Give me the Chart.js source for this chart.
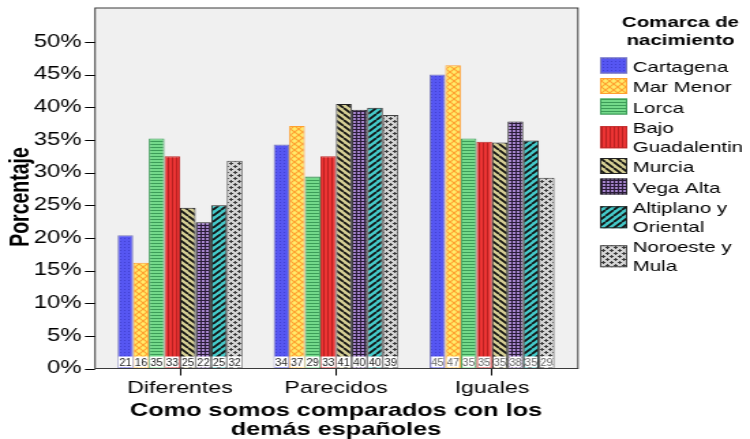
<!DOCTYPE html>
<html>
<head>
<meta charset="utf-8">
<script src="https://cdn.jsdelivr.net/npm/chart.js@4.4.1/dist/chart.umd.min.js"></script>
<style>
html, body { margin: 0; padding: 0; background: #fff; }
#c { display: block; }
</style>
</head>
<body>
<canvas id="c" width="550" height="439" style="width:750px;height:439px"></canvas>
<script>
// the original picture is stretched sideways, so the canvas is drawn narrow and widened by css
const categories = ['Diferentes', 'Parecidos', 'Iguales'];
const seriesNames = ['Cartagena', 'Mar Menor', 'Lorca', 'Bajo Guadalentin', 'Murcia', 'Vega Alta', 'Altiplano y Oriental', 'Noroeste y Mula'];
const legendLines = [['Cartagena'], ['Mar Menor'], ['Lorca'], ['Bajo', 'Guadalentin'], ['Murcia'], ['Vega Alta'], ['Altiplano y', 'Oriental'], ['Noroeste y', 'Mula']];

const cartagena  = [20.4, 34.3, 45.0];
const marMenor   = [16.2, 37.1, 46.4];
const lorca      = [35.2, 29.4, 35.2];
const bajoGuad   = [32.5, 32.5, 34.7];
const murcia     = [24.6, 40.5, 34.6];
const vegaAlta   = [22.4, 39.6, 37.8];
const altiplano  = [25.0, 39.9, 34.9];
const noroeste   = [31.8, 38.8, 29.2];
const seriesValues = [cartagena, marMenor, lorca, bajoGuad, murcia, vegaAlta, altiplano, noroeste];

// numbers printed at the foot of each bar, per category
const countLabels = [
    [21, 16, 35, 33, 25, 22, 25, 32],
    [34, 37, 29, 33, 41, 40, 40, 39],
    [45, 47, 35, 35, 35, 38, 35, 29]
];
const yTicks = [0, 5, 10, 15, 20, 25, 30, 35, 40, 45, 50];
const yMax = 52.5;

const FONT = '"Liberation Sans", Arial, sans-serif';

const makePattern = (w, h, bg, draw) => {
    const c = document.createElement('canvas');
    c.width = w; c.height = h;
    const g = c.getContext('2d');
    g.fillStyle = bg;
    g.fillRect(0, 0, w, h);
    draw(g, w, h);
    return document.getElementById('c').getContext('2d').createPattern(c, 'repeat');
};

const diag = (g, s, color, width, up) => {
    g.strokeStyle = color;
    g.lineWidth = width;
    g.beginPath();
    [-s, 0, s].forEach(k => {
        if (up) { g.moveTo(k, s); g.lineTo(k + s, 0); }
        else { g.moveTo(k, 0); g.lineTo(k + s, s); }
    });
    g.stroke();
};

const fills = [
    makePattern(3, 3, '#5656f2', g => { g.fillStyle = '#4040d0'; g.fillRect(1, 1, 1, 1); }),
    makePattern(6, 6, '#ffec6a', (g, w) => { diag(g, w, '#ffa030', 1.2, false); diag(g, w, '#ffa030', 1.2, true); }),
    makePattern(3, 3, '#74d98a', (g, w) => { g.fillStyle = '#3c9c58'; g.fillRect(0, 0, w, 1); }),
    makePattern(3, 3, '#ec3434', (g, w, h) => { g.fillStyle = '#b82020'; g.fillRect(0, 0, 1, h); }),
    makePattern(6, 6, '#d6cf95', (g, w) => diag(g, w, '#111', 1.8, false)),
    makePattern(3, 3, '#a584cc', (g, w, h) => { g.fillStyle = '#2a1c38'; g.fillRect(0, 0, w, 1); g.fillRect(0, 0, 1, h); }),
    makePattern(6, 6, '#45caca', (g, w) => diag(g, w, '#111', 1.8, true)),
    makePattern(6, 6, '#d4d4d4', g => {
        g.fillStyle = '#3a3a3a';
        g.fillRect(1, 0, 1, 3); g.fillRect(0, 1, 3, 1);
        g.fillRect(4, 3, 1, 3); g.fillRect(3, 4, 3, 1);
    })
];
const borders = ['#7a7ab8', '#ffa030', '#3c9c58', '#c02a2a', '#222', '#222', '#222', '#444'];

// plot frame and the y tick marks sit a little outside the bar area
const framePlugin = {
    id: 'frame',
    beforeDraw(chart) {
        const {ctx, chartArea: a} = chart;
        ctx.save();
        ctx.fillStyle = '#f0f0f0';
        ctx.fillRect(69.7, 8, 354.1, a.bottom - 8);
        ctx.strokeStyle = '#3a3a3a';
        ctx.lineWidth = 1;
        ctx.strokeRect(69.7, 8, 354.1, a.bottom - 8);
        const y = chart.scales.y;
        ctx.strokeStyle = '#000';
        ctx.beginPath();
        yTicks.forEach(v => {
            const py = Math.round(y.getPixelForValue(v)) + 0.5;
            ctx.moveTo(62.3, py);
            ctx.lineTo(69.7, py);
        });
        ctx.stroke();
        ctx.restore();
    }
};

const countPlugin = {
    id: 'counts',
    afterDatasetsDraw(chart) {
        const ctx = chart.ctx;
        ctx.save();
        chart.data.datasets.forEach((ds, i) => {
            chart.getDatasetMeta(i).data.forEach((bar, j) => {
                const inset = j === 2 ? 1.2 : 0.6;
                const left = bar.x - bar.width / 2 + inset;
                const w = bar.width - inset * 2;
                ctx.fillStyle = '#fff';
                ctx.fillRect(left, bar.base - 11.5, w, 11);
                ctx.fillStyle = j === 2 ? '#666' : '#222';
                ctx.font = '10.5px ' + FONT;
                ctx.textAlign = 'center';
                ctx.textBaseline = 'middle';
                ctx.save();
                ctx.translate(bar.x, bar.base - 5.5);
                ctx.scale(0.78, 1);
                ctx.fillText(String(countLabels[j][i]), 0, 0.5);
                ctx.restore();
            });
        });
        ctx.restore();
    }
};

const legendPlugin = {
    id: 'sideLegend',
    afterDraw(chart) {
        const ctx = chart.ctx;
        ctx.save();
        ctx.fillStyle = '#000';
        ctx.textBaseline = 'middle';
        ctx.textAlign = 'center';
        ctx.font = 'bold 15px ' + FONT;
        ctx.fillText('Comarca de', 499, 23);
        ctx.fillText('nacimiento', 499, 41);
        ctx.textAlign = 'left';
        ctx.font = '15px ' + FONT;
        let y = 67.5;
        chart.data.datasets.forEach((ds, i) => {
            const lines = legendLines[i];
            const mid = y + (lines.length - 1) * 18.5 / 2;
            const bh = lines.length > 1 ? 22 : 16;
            const top = lines.length > 1 ? mid - bh / 2 - 1 : y - 10;
            ctx.fillStyle = ds.backgroundColor;
            ctx.fillRect(440, top, 20, bh);
            ctx.strokeStyle = ds.borderColor;
            ctx.lineWidth = 1;
            ctx.strokeRect(440.5, top + 0.5, 19, bh - 1);
            ctx.fillStyle = '#000';
            lines.forEach((t, k) => ctx.fillText(t, 464, y + k * 18.5));
            y += 20.5 + 18.5 * (lines.length - 1);
        });
        ctx.restore();
    }
};

new Chart(document.getElementById('c'), {
    type: 'bar',
    data: {
        labels: categories,
        datasets: seriesNames.map((name, i) => ({
            label: name,
            data: seriesValues[i],
            backgroundColor: fills[i],
            borderColor: borders[i],
            borderWidth: 1,
            categoryPercentage: 0.8,
            barPercentage: 1.0
        }))
    },
    options: {
        responsive: false,
        animation: false,
        devicePixelRatio: 1,
        layout: { padding: { left: 0, right: 132, top: 8, bottom: 0 } },
        plugins: { legend: { display: false }, tooltip: { enabled: false } },
        scales: {
            x: {
                offset: true,
                grid: { display: true, drawOnChartArea: false, drawTicks: true, tickLength: 7, offset: false, color: '#000' },
                border: { display: false },
                ticks: { font: { family: FONT, size: 17 }, color: '#000', padding: 3 },
                title: {
                    display: true,
                    text: ['Como somos comparados con los', 'demás españoles'],
                    font: { family: FONT, size: 18.5, weight: 'bold', lineHeight: 1.02 },
                    color: '#000',
                    padding: { top: 4, bottom: -0.5 }
                },
                afterFit(s) { s.height = 70.5; }
            },
            y: {
                min: 0,
                max: yMax,
                ticks: {
                    stepSize: 5,
                    includeBounds: false,
                    callback: v => v + '%',
                    font: { family: FONT, size: 17.5 },
                    color: '#000',
                    padding: 15
                },
                grid: { display: true, drawOnChartArea: false, drawTicks: false, color: 'rgba(0,0,0,0)' },
                border: { display: false },
                title: {
                    display: true,
                    text: 'Porcentaje',
                    font: { family: FONT, size: 19.5, weight: 'bold', lineHeight: 1.2 },
                    color: '#000',
                    padding: { top: 4, bottom: 0 }
                },
                afterFit(s) { s.width = 74.8; }
            }
        }
    },
    plugins: [framePlugin, countPlugin, legendPlugin]
});
</script>
</body>
</html>
